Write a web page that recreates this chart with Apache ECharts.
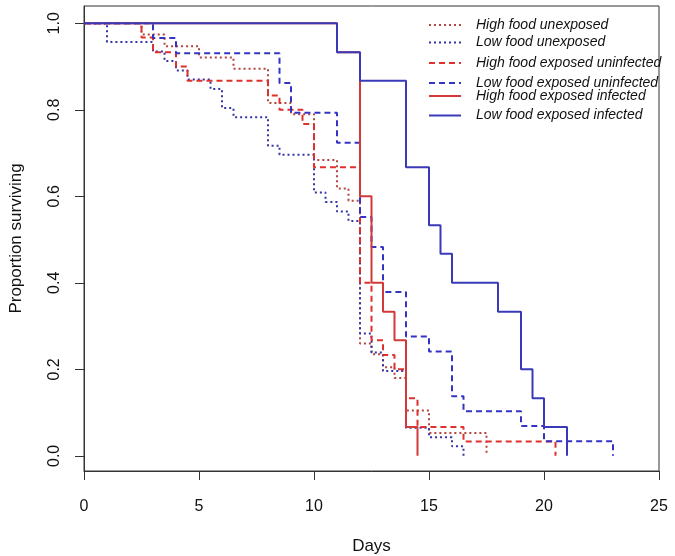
<!DOCTYPE html>
<html>
<head>
<meta charset="utf-8">
<script src="https://cdn.jsdelivr.net/npm/echarts@6/dist/echarts.min.js"></script>
<style>html,body{margin:0;padding:0;background:#fff}#c{width:675px;height:556px}</style>
</head>
<body>
<div id="c"></div>
<script>
// ---- data ----
const seriesNames = ["High food unexposed","Low food unexposed","High food exposed uninfected","Low food exposed uninfected","High food exposed infected","Low food exposed infected"];

const hfUnexpDays = [0,2.5,3.5,5,6.5,8,9,10,11,11.5,12,12.5,13,13.5,14,15,17.5];
const hfUnexpSurv = [1,0.974,0.947,0.921,0.895,0.816,0.790,0.684,0.618,0.590,0.260,0.235,0.205,0.180,0.105,0.053,0];

const lfUnexpDays = [0,1,3,3.5,4,4.5,5.5,6,6.5,8,8.5,10,10.5,11,11.5,12,12.5,13,14,15,16,16.5];
const lfUnexpSurv = [1,0.957,0.935,0.913,0.891,0.870,0.848,0.804,0.783,0.717,0.696,0.609,0.587,0.565,0.543,0.283,0.239,0.196,0.065,0.043,0.022,0];

const hfExpUninfDays = [0,2.5,3,4,4.5,8,8.5,9.5,10,12,12.5,13,13.5,14,14.5,16.5,20.5];
const hfExpUninfSurv = [1,0.967,0.933,0.9,0.867,0.833,0.8,0.767,0.667,0.4,0.267,0.233,0.2,0.133,0.067,0.033,0];

const lfExpUninfDays = [0,3,4,8.5,9,11,12,12.5,13,14,15,16,16.5,19,20,23];
const lfExpUninfSurv = [1,0.966,0.931,0.862,0.793,0.724,0.552,0.483,0.379,0.276,0.241,0.138,0.103,0.069,0.034,0];

const hfExpInfDays = [0,11,12,12.5,13,13.5,14,14.5];
const hfExpInfSurv = [1,0.933,0.6,0.4,0.333,0.267,0.067,0];

const lfExpInfDays = [0,11,12,14,15,15.5,16,18,19,19.5,20,21];
const lfExpInfSurv = [1,0.933,0.867,0.667,0.533,0.467,0.4,0.333,0.2,0.133,0.067,0];

const xTicks = [0,5,10,15,20,25];
const yTicks = [0,0.2,0.4,0.6,0.8,1.0];

// ---- styling ----
const FONT = "Liberation Sans";
const styles = [
  {color:"#b5443c", type:[2,3], width:2},
  {color:"#3434a8", type:[2,3], width:2},
  {color:"#e0302c", type:[6,4], width:2},
  {color:"#3434c4", type:[6,4], width:2},
  {color:"#d23a3a", type:"solid", width:2},
  {color:"#3a3ab8", type:"solid", width:2}
];
const allDays = [hfUnexpDays, lfUnexpDays, hfExpUninfDays, lfExpUninfDays, hfExpInfDays, lfExpInfDays];
const allSurv = [hfUnexpSurv, lfUnexpSurv, hfExpUninfSurv, lfExpUninfSurv, hfExpInfSurv, lfExpInfSurv];
const legendCenters = [25, 42.5, 63, 83, 96, 115.5];

const series = seriesNames.map((n,i)=>({
  name:n, type:"line", step:"end", symbol:"none", showSymbol:false,
  data: allDays[i].map((d,k)=>[d, allSurv[i][k]]),
  lineStyle:{color:styles[i].color, type:styles[i].type, width:styles[i].width},
  itemStyle:{color:styles[i].color},
  animation:false
}));

const legends = seriesNames.map((n,i)=>({
  show:true, padding:0,
  data:[n], left:428, top:legendCenters[i]-7, itemWidth:32, itemHeight:14,
  selectedMode:false,
  itemStyle:{opacity:0},
  textStyle:{fontFamily:FONT, fontStyle:"italic", fontSize:14, color:"#111", padding:[0,0,0,10]}
}));

const chart = echarts.init(document.getElementById("c"), null, {renderer:"canvas"});
chart.setOption({
  animation:false,
  backgroundColor:"#fff",
  grid:{left:84, right:16, top:6, bottom:85, show:true, borderColor:"#333", borderWidth:1, backgroundColor:"transparent", outerBoundsMode:"none", containLabel:false},
  legend: legends,
  xAxis:{
    type:"value", min:0, max:25, interval:5,
    name:"Days", nameLocation:"middle", nameGap:67,
    nameTextStyle:{fontFamily:FONT, fontSize:17, color:"#111"},
    axisLine:{show:true, onZero:false, lineStyle:{color:"#333", width:1}},
    axisTick:{show:true, length:9, lineStyle:{color:"#333"}},
    axisLabel:{fontFamily:FONT, fontSize:16, color:"#111", margin:28, formatter:v=>String(v)},
    splitLine:{show:false}
  },
  yAxis:{
    type:"value", min:-0.035, max:1.04,
    name:"Proportion surviving", nameLocation:"middle", nameGap:59,
    nameTextStyle:{fontFamily:FONT, fontSize:17, color:"#111"},
    axisLine:{show:true, onZero:false, lineStyle:{color:"#333", width:1}},
    axisTick:{show:true, length:9, customValues:yTicks, lineStyle:{color:"#333"}},
    axisLabel:{fontFamily:FONT, fontSize:16, color:"#111", margin:21, rotate:90, customValues:yTicks, formatter:v=>v.toFixed(1)},
    splitLine:{show:false}
  },
  series: series
});
</script>
</body>
</html>
